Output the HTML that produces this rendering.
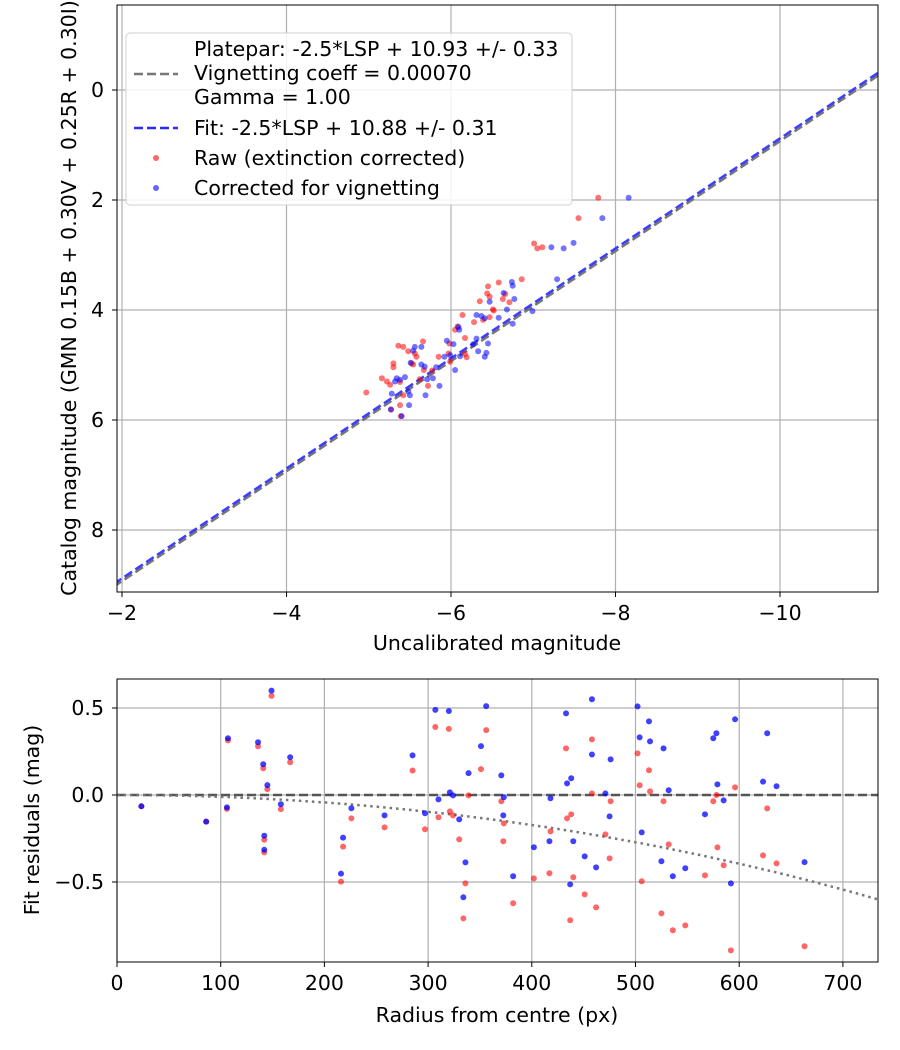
<!DOCTYPE html>
<html><head><meta charset="utf-8"><style>
html,body{margin:0;padding:0;background:#fff;}
svg{display:block;font-family:"DejaVu Sans","Liberation Sans",sans-serif;}
</style></head><body>
<svg id="chart" width="900" height="1050" viewBox="0 0 900 1050" xmlns="http://www.w3.org/2000/svg">
<defs>
<clipPath id="clipTop"><rect x="117" y="5" width="761" height="587"/></clipPath>
<clipPath id="clipBot"><rect x="117" y="679" width="761" height="283"/></clipPath>
</defs>
<g id="topPlot"></g>
<g id="botPlot"></g>
</svg>
<script>
// ---- Top chart data (uncalibrated magnitude, catalog magnitude) ----
const rawUncal = [-7.79,-7.55,-7.01,-7.05,-7.11,-6.86,-6.58,-6.45,-6.44,-6.47,-6.35,-6.51,-6.52,-6.47,-6.39,-6.14,-6.28,-6.63,-6.66,-6.71,-6.08,-6.05,-6.17,-5.98,-5.99,-5.97,-6.17,-6.19,-5.85,-5.66,-5.36,-5.42,-5.48,-5.56,-5.58,-5.30,-5.30,-5.52,-5.54,-5.67,-5.77,-5.16,-5.22,-5.26,-5.38,-5.62,-5.72,-5.42,-5.38,-5.27,-5.39,-4.97];
const rawCat = [1.96,2.33,2.79,2.88,2.86,3.44,3.50,3.57,3.70,3.76,3.84,3.99,4.01,4.13,4.18,4.09,4.22,3.80,3.71,3.86,4.30,4.36,4.51,4.61,4.94,4.79,4.80,4.86,4.85,4.57,4.65,4.67,4.75,4.79,4.85,4.97,5.04,4.97,4.99,5.09,5.10,5.24,5.30,5.36,5.31,5.26,5.38,5.55,5.73,5.81,5.93,5.50];
const corrUncal = [-8.16,-7.84,-7.49,-7.37,-7.22,-7.29,-6.74,-6.75,-6.64,-6.77,-6.68,-6.58,-6.75,-6.99,-6.47,-6.31,-6.37,-6.41,-6.09,-6.10,-5.95,-6.03,-5.99,-6.11,-5.92,-6.31,-6.45,-6.27,-6.33,-6.43,-6.41,-5.56,-5.64,-5.54,-5.51,-5.64,-5.68,-5.82,-5.71,-5.78,-5.86,-6.05,-5.34,-5.38,-5.32,-5.44,-5.48,-5.50,-5.28,-5.69,-5.49,-5.27,-5.40];
const corrCat = [1.96,2.33,2.78,2.88,2.86,3.44,3.49,3.56,3.69,3.80,3.99,4.14,4.25,4.02,3.85,4.09,4.11,4.15,4.31,4.36,4.56,4.62,4.82,4.84,4.85,4.52,4.61,4.62,4.75,4.78,4.85,4.67,4.67,4.74,4.96,4.99,5.03,5.04,5.26,5.24,5.38,5.09,5.24,5.27,5.30,5.22,5.48,5.55,5.52,5.55,5.73,5.81,5.93];
const fitOffset = 10.88, plateOffset = 10.93;
const topXTicks = [-2,-4,-6,-8,-10];
const topYTicks = [0,2,4,6,8];
// ---- Bottom chart data ----
const radius = [23.5,86,107,106,136,141,145,142,142,149,158,167,218,216,226,258,285,297,307,310,320,321,324,330,336,334,339,351,356,370.6,373,372.5,382,402,417,418,433,434,438,437,440,451,458,458,462,471,475,476,502,504,506,513,514,525,527,532,536,548,567,575,578,579,585,592,596,623,627,636,663];
const resRaw = [-0.065,-0.153,0.314,-0.08,0.28,0.154,0.034,-0.257,-0.33,0.57,-0.081,0.188,-0.297,-0.498,-0.134,-0.186,0.141,-0.197,0.391,-0.128,0.38,-0.094,-0.117,-0.255,-0.508,-0.709,-0.002,0.149,0.373,-0.036,-0.163,-0.266,-0.622,-0.479,-0.45,-0.209,0.268,-0.134,-0.111,-0.72,-0.473,-0.571,0.009,0.32,-0.646,-0.226,-0.364,-0.036,0.239,0.056,-0.496,0.142,0.021,-0.68,-0.036,-0.284,-0.777,-0.749,-0.462,-0.036,0.0,-0.301,-0.404,-0.893,0.044,-0.347,-0.077,-0.393,-0.869];
const resCorr = [-0.065,-0.153,0.326,-0.071,0.303,0.177,0.057,-0.234,-0.315,0.6,-0.053,0.217,-0.245,-0.452,-0.076,-0.117,0.228,-0.105,0.489,-0.025,0.483,0.015,-0.002,-0.14,-0.387,-0.588,0.126,0.281,0.511,0.113,-0.013,-0.117,-0.467,-0.3,-0.266,-0.019,0.469,0.067,0.096,-0.514,-0.266,-0.353,0.233,0.55,-0.416,0.009,-0.123,0.205,0.509,0.331,-0.215,0.423,0.308,-0.381,0.268,0.027,-0.467,-0.421,-0.111,0.326,0.355,0.061,-0.031,-0.508,0.435,0.077,0.355,0.05,-0.386];
const vignCoeff = 0.0007;
const botXTicks = [0,100,200,300,400,500,600,700];
const botYTicks = [0.5,0.0,-0.5];
const botYTickLabels = ['0.5','0.0','\u22120.5'];

const FS = 20.5;
const NS="http://www.w3.org/2000/svg";
function mk(parent,tag,attrs,text){const e=document.createElementNS(NS,tag);for(const k in attrs)e.setAttribute(k,attrs[k]);if(text!==undefined)e.textContent=text;parent.appendChild(e);return e;}
const fmt=v=>(v<0?"\u2212":"")+Math.abs(v);

function topX(v){return 122+(-v-2)*82.25;}
function topY(v){return 90+v*55;}
const topG=document.getElementById('topPlot');
topXTicks.forEach(t=>{const x=topX(t);
 const g=mk(topG,'line',{x1:x,x2:x,y1:5,y2:592,stroke:'#b0b0b0','stroke-width':1.2});
 
 mk(topG,'line',{x1:x,x2:x,y1:592,y2:597,stroke:'#000'});
 const l=mk(topG,'text',{x:x,y:620,'text-anchor':'middle','font-size':FS},fmt(t));
 });
topYTicks.forEach(t=>{const y=topY(t);
 const g=mk(topG,'line',{x1:117,x2:878,y1:y,y2:y,stroke:'#b0b0b0','stroke-width':1.2});
 
 mk(topG,'line',{x1:112,x2:117,y1:y,y2:y,stroke:'#000'});
 const l=mk(topG,'text',{x:104,y:y+7,'text-anchor':'end','font-size':FS},fmt(t));
 });
const tc=mk(topG,'g',{'clip-path':'url(#clipTop)'});
const x0=-1.9,x1=-11.3;
const pl=mk(tc,'line',{x1:topX(x0),y1:topY(x0+plateOffset),x2:topX(x1),y2:topY(x1+plateOffset),stroke:'#777','stroke-width':2.5,'stroke-dasharray':'9,4'});

const fl=mk(tc,'line',{x1:topX(x0),y1:topY(x0+fitOffset),x2:topX(x1),y2:topY(x1+fitOffset),stroke:'#2a2aff','stroke-width':2.5,'stroke-dasharray':'9,4','stroke-opacity':0.9});

rawUncal.forEach((v,i)=>{const c=mk(tc,'circle',{cx:topX(v),cy:topY(rawCat[i]),r:3,fill:'#ff0000','fill-opacity':0.55});
 });
corrUncal.forEach((v,i)=>{const c=mk(tc,'circle',{cx:topX(v),cy:topY(corrCat[i]),r:3,fill:'#0000ff','fill-opacity':0.55});
 });
mk(topG,'rect',{x:117,y:5,width:761,height:587,fill:'none',stroke:'#000','stroke-width':1});
const lg=mk(topG,'g',{});

mk(lg,'rect',{x:126,y:33,width:446,height:172,rx:4,fill:'#fff','fill-opacity':0.85,stroke:'#d0d0d0'});
[['Platepar: -2.5*LSP + 10.93 +/- 0.33',56],['Vignetting coeff = 0.00070',80],['Gamma = 1.00',104],['Fit: -2.5*LSP + 10.88 +/- 0.31',135],['Raw (extinction corrected)',165],['Corrected for vignetting',195]].forEach(([t,y])=>{
 const e=mk(lg,'text',{x:194,y:y,'font-size':FS},t);
 
 });
mk(lg,'line',{x1:134,x2:178,y1:74,y2:74,stroke:'#777','stroke-width':2.5,'stroke-dasharray':'9,4'});
mk(lg,'line',{x1:134,x2:178,y1:128,y2:128,stroke:'#2a2aff','stroke-width':2.5,'stroke-dasharray':'9,4'});
mk(lg,'circle',{cx:156,cy:158,r:3,fill:'#ff0000','fill-opacity':0.6});
mk(lg,'circle',{cx:156,cy:188,r:3,fill:'#0000ff','fill-opacity':0.6});
let e=mk(topG,'text',{x:497,y:650,'text-anchor':'middle','font-size':FS},'Uncalibrated magnitude');

e=mk(topG,'text',{x:0,y:0,'text-anchor':'middle','font-size':FS,transform:'translate(76,298) rotate(-90)'},'Catalog magnitude (GMN 0.15B + 0.30V + 0.25R + 0.30I)');


function botX(v){return 117+v*1.037;}
function botY(v){return 795-v*174;}
const botG=document.getElementById('botPlot');
botXTicks.forEach(t=>{const x=botX(t);
 const g=mk(botG,'line',{x1:x,x2:x,y1:679,y2:962,stroke:'#b0b0b0','stroke-width':1.2});
 
 mk(botG,'line',{x1:x,x2:x,y1:962,y2:967,stroke:'#000'});
 const l=mk(botG,'text',{x:x,y:990,'text-anchor':'middle','font-size':FS},String(t));
 });
botYTicks.forEach((t,i)=>{const y=botY(t);
 const g=mk(botG,'line',{x1:117,x2:878,y1:y,y2:y,stroke:'#b0b0b0','stroke-width':1.2});
 
 mk(botG,'line',{x1:112,x2:117,y1:y,y2:y,stroke:'#000'});
 const l=mk(botG,'text',{x:104,y:y+7,'text-anchor':'end','font-size':FS},botYTickLabels[i]);
 });
const bc=mk(botG,'g',{'clip-path':'url(#clipBot)'});
const zl=mk(bc,'line',{x1:117,x2:878,y1:botY(0),y2:botY(0),stroke:'#555','stroke-width':2.5,'stroke-dasharray':'9,4'});

let d='';for(let r=0;r<=740;r+=5){const c=Math.cos(vignCoeff*r);const v=2.5*Math.log10(Math.pow(c,4));d+=(r?'L':'M')+botX(r).toFixed(1)+','+botY(v).toFixed(1);}
const vc=mk(bc,'path',{d:d,fill:'none',stroke:'#777','stroke-width':2.5,'stroke-dasharray':'2.5,4'});

radius.forEach((r,i)=>{const c=mk(bc,'circle',{cx:botX(r),cy:botY(resRaw[i]),r:3,fill:'#ff0000','fill-opacity':0.6});
 });
radius.forEach((r,i)=>{const c=mk(bc,'circle',{cx:botX(r),cy:botY(resCorr[i]),r:3,fill:'#0000ff','fill-opacity':0.75});
 });
mk(botG,'rect',{x:117,y:679,width:761,height:283,fill:'none',stroke:'#000','stroke-width':1});
e=mk(botG,'text',{x:497,y:1022,'text-anchor':'middle','font-size':FS},'Radius from centre (px)');

e=mk(botG,'text',{x:0,y:0,'text-anchor':'middle','font-size':FS,transform:'translate(39,820) rotate(-90)'},'Fit residuals (mag)');

</script>
</body></html>
